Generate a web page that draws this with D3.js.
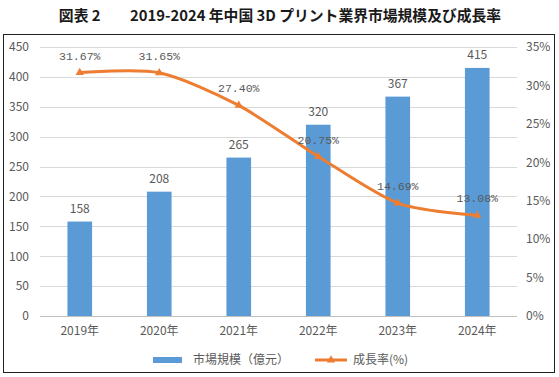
<!DOCTYPE html>
<html>
<head>
<meta charset="utf-8">
<script src="https://cdn.jsdelivr.net/npm/d3@7"></script>
<style>
  body { margin: 0; background: #fff; }
  svg { display: block; }
</style>
</head>
<body>
<svg id="chart"></svg>
<script>
var years = ["2019年", "2020年", "2021年", "2022年", "2023年", "2024年"];
var marketSize = [158, 208, 265, 320, 367, 415];
var growthRate = [31.67, 31.65, 27.40, 20.75, 14.69, 13.08];
var leftTicks = [0, 50, 100, 150, 200, 250, 300, 350, 400, 450];
var rightTicks = [0, 5, 10, 15, 20, 25, 30, 35];

var width = 559, height = 377;
var svg = d3.select("#chart")
  .attr("width", width)
  .attr("height", height);

svg.append("rect")
  .attr("width", width).attr("height", height)
  .attr("fill", "#fff");

// title
svg.append("text")
  .attr("x", 280)
  .attr("y", 21)
  .attr("text-anchor", "middle")
  .attr("font-family", "'Noto Sans CJK JP', sans-serif")
  .attr("font-weight", "bold")
  .attr("font-size", "14.8px")
  .attr("fill", "#1a1a1a")
  .attr("xml:space", "preserve")
  .text("図表 2　　2019-2024 年中国 3D プリント業界市場規模及び成長率");

// frame
svg.append("rect")
  .attr("x", 3.5).attr("y", 34.5)
  .attr("width", 551).attr("height", 338)
  .attr("fill", "none")
  .attr("stroke", "#222")
  .attr("stroke-width", 1);

var x0 = 40, x1 = 517, yTop = 47, yBottom = 316;

var xScale = d3.scaleBand()
  .domain(years)
  .range([x0, x1])
  .paddingInner(0.69)
  .paddingOuter(0.345);

var yLeft = d3.scaleLinear().domain([0, 450]).range([yBottom, yTop]);
var yRight = d3.scaleLinear().domain([0, 35]).range([yBottom, yTop]);

var tickFont = "'Noto Sans CJK JP', sans-serif";
var gray = "#595959";

// grid lines
svg.append("g")
  .selectAll("line")
  .data(leftTicks)
  .enter().append("line")
  .attr("x1", x0).attr("x2", x1)
  .attr("y1", function(d) { return Math.round(yLeft(d)) + 0.5; })
  .attr("y2", function(d) { return Math.round(yLeft(d)) + 0.5; })
  .attr("stroke", function(d) { return d == 0 ? "#bfbfbf" : "#d9d9d9"; })
  .attr("stroke-width", 1);

// left axis
var leftAxis = svg.append("g")
  .attr("transform", "translate(29,0)")
  .call(d3.axisLeft(yLeft).tickValues(leftTicks).tickSize(0).tickPadding(0));
leftAxis.select(".domain").remove();
leftAxis.selectAll("text")
  .attr("font-family", tickFont)
  .attr("font-size", "12px")
  .attr("fill", gray);

// right axis
var rightAxis = svg.append("g")
  .attr("transform", "translate(526,0)")
  .call(d3.axisRight(yRight).tickValues(rightTicks).tickSize(0).tickPadding(0)
    .tickFormat(function(d) { return d + "%"; }));
rightAxis.select(".domain").remove();
rightAxis.selectAll("text")
  .attr("font-family", tickFont)
  .attr("font-size", "12px")
  .attr("fill", gray);

// bottom axis
var bottomAxis = svg.append("g")
  .attr("transform", "translate(0," + yBottom + ")")
  .call(d3.axisBottom(xScale).tickSize(0).tickPadding(10));
bottomAxis.select(".domain").remove();
bottomAxis.selectAll("text")
  .attr("font-family", tickFont)
  .attr("font-size", "12px")
  .attr("fill", gray);

// bars
svg.selectAll(".bar")
  .data(marketSize)
  .enter().append("rect")
  .attr("class", "bar")
  .attr("x", function(d, i) { return xScale(years[i]); })
  .attr("y", function(d) { return yLeft(d); })
  .attr("width", xScale.bandwidth())
  .attr("height", function(d) { return yBottom - yLeft(d); })
  .attr("fill", "#5B9BD5");

svg.selectAll(".barLabel")
  .data(marketSize)
  .enter().append("text")
  .attr("class", "barLabel")
  .attr("x", function(d, i) { return xScale(years[i]) + xScale.bandwidth() / 2; })
  .attr("y", function(d) { return yLeft(d) - 9; })
  .attr("text-anchor", "middle")
  .attr("font-family", tickFont)
  .attr("font-size", "12px")
  .attr("fill", gray)
  .text(function(d) { return d; });

// growth line
var line = d3.line()
  .x(function(d, i) { return xScale(years[i]) + xScale.bandwidth() / 2; })
  .y(function(d) { return yRight(d); })
  .curve(d3.curveCardinal.tension(0.2));

svg.append("path")
  .datum(growthRate)
  .attr("d", line)
  .attr("fill", "none")
  .attr("stroke", "#ED7D31")
  .attr("stroke-width", 3)
  .attr("stroke-linecap", "round");

svg.selectAll(".marker")
  .data(growthRate)
  .enter().append("path")
  .attr("class", "marker")
  .attr("d", d3.symbol().type(d3.symbolTriangle).size(30))
  .attr("transform", function(d, i) {
    return "translate(" + (xScale(years[i]) + xScale.bandwidth() / 2) + "," + yRight(d) + ")";
  })
  .attr("fill", "#ED7D31");

svg.selectAll(".rateLabel")
  .data(growthRate)
  .enter().append("text")
  .attr("class", "rateLabel")
  .attr("x", function(d, i) { return xScale(years[i]) + xScale.bandwidth() / 2; })
  .attr("y", function(d) { return yRight(d) - 13; })
  .attr("text-anchor", "middle")
  .attr("font-family", "'Liberation Mono', monospace")
  .attr("font-size", "11.5px")
  .attr("fill", gray)
  .text(function(d) { return d.toFixed(2) + "%"; });

// legend
var legend = svg.append("g");
legend.append("rect")
  .attr("x", 153).attr("y", 357)
  .attr("width", 29).attr("height", 6)
  .attr("fill", "#5B9BD5");
legend.append("text")
  .attr("x", 193).attr("y", 364)
  .attr("font-family", tickFont)
  .attr("font-size", "12px")
  .attr("fill", gray)
  .text("市場規模（億元）");
legend.append("line")
  .attr("x1", 315).attr("x2", 347)
  .attr("y1", 360).attr("y2", 360)
  .attr("stroke", "#ED7D31")
  .attr("stroke-width", 3);
legend.append("path")
  .attr("d", d3.symbol().type(d3.symbolTriangle).size(30))
  .attr("transform", "translate(331,360)")
  .attr("fill", "#ED7D31");
legend.append("text")
  .attr("x", 353).attr("y", 364)
  .attr("font-family", tickFont)
  .attr("font-size", "12px")
  .attr("fill", gray)
  .text("成長率(%)");
</script>
</body>
</html>
